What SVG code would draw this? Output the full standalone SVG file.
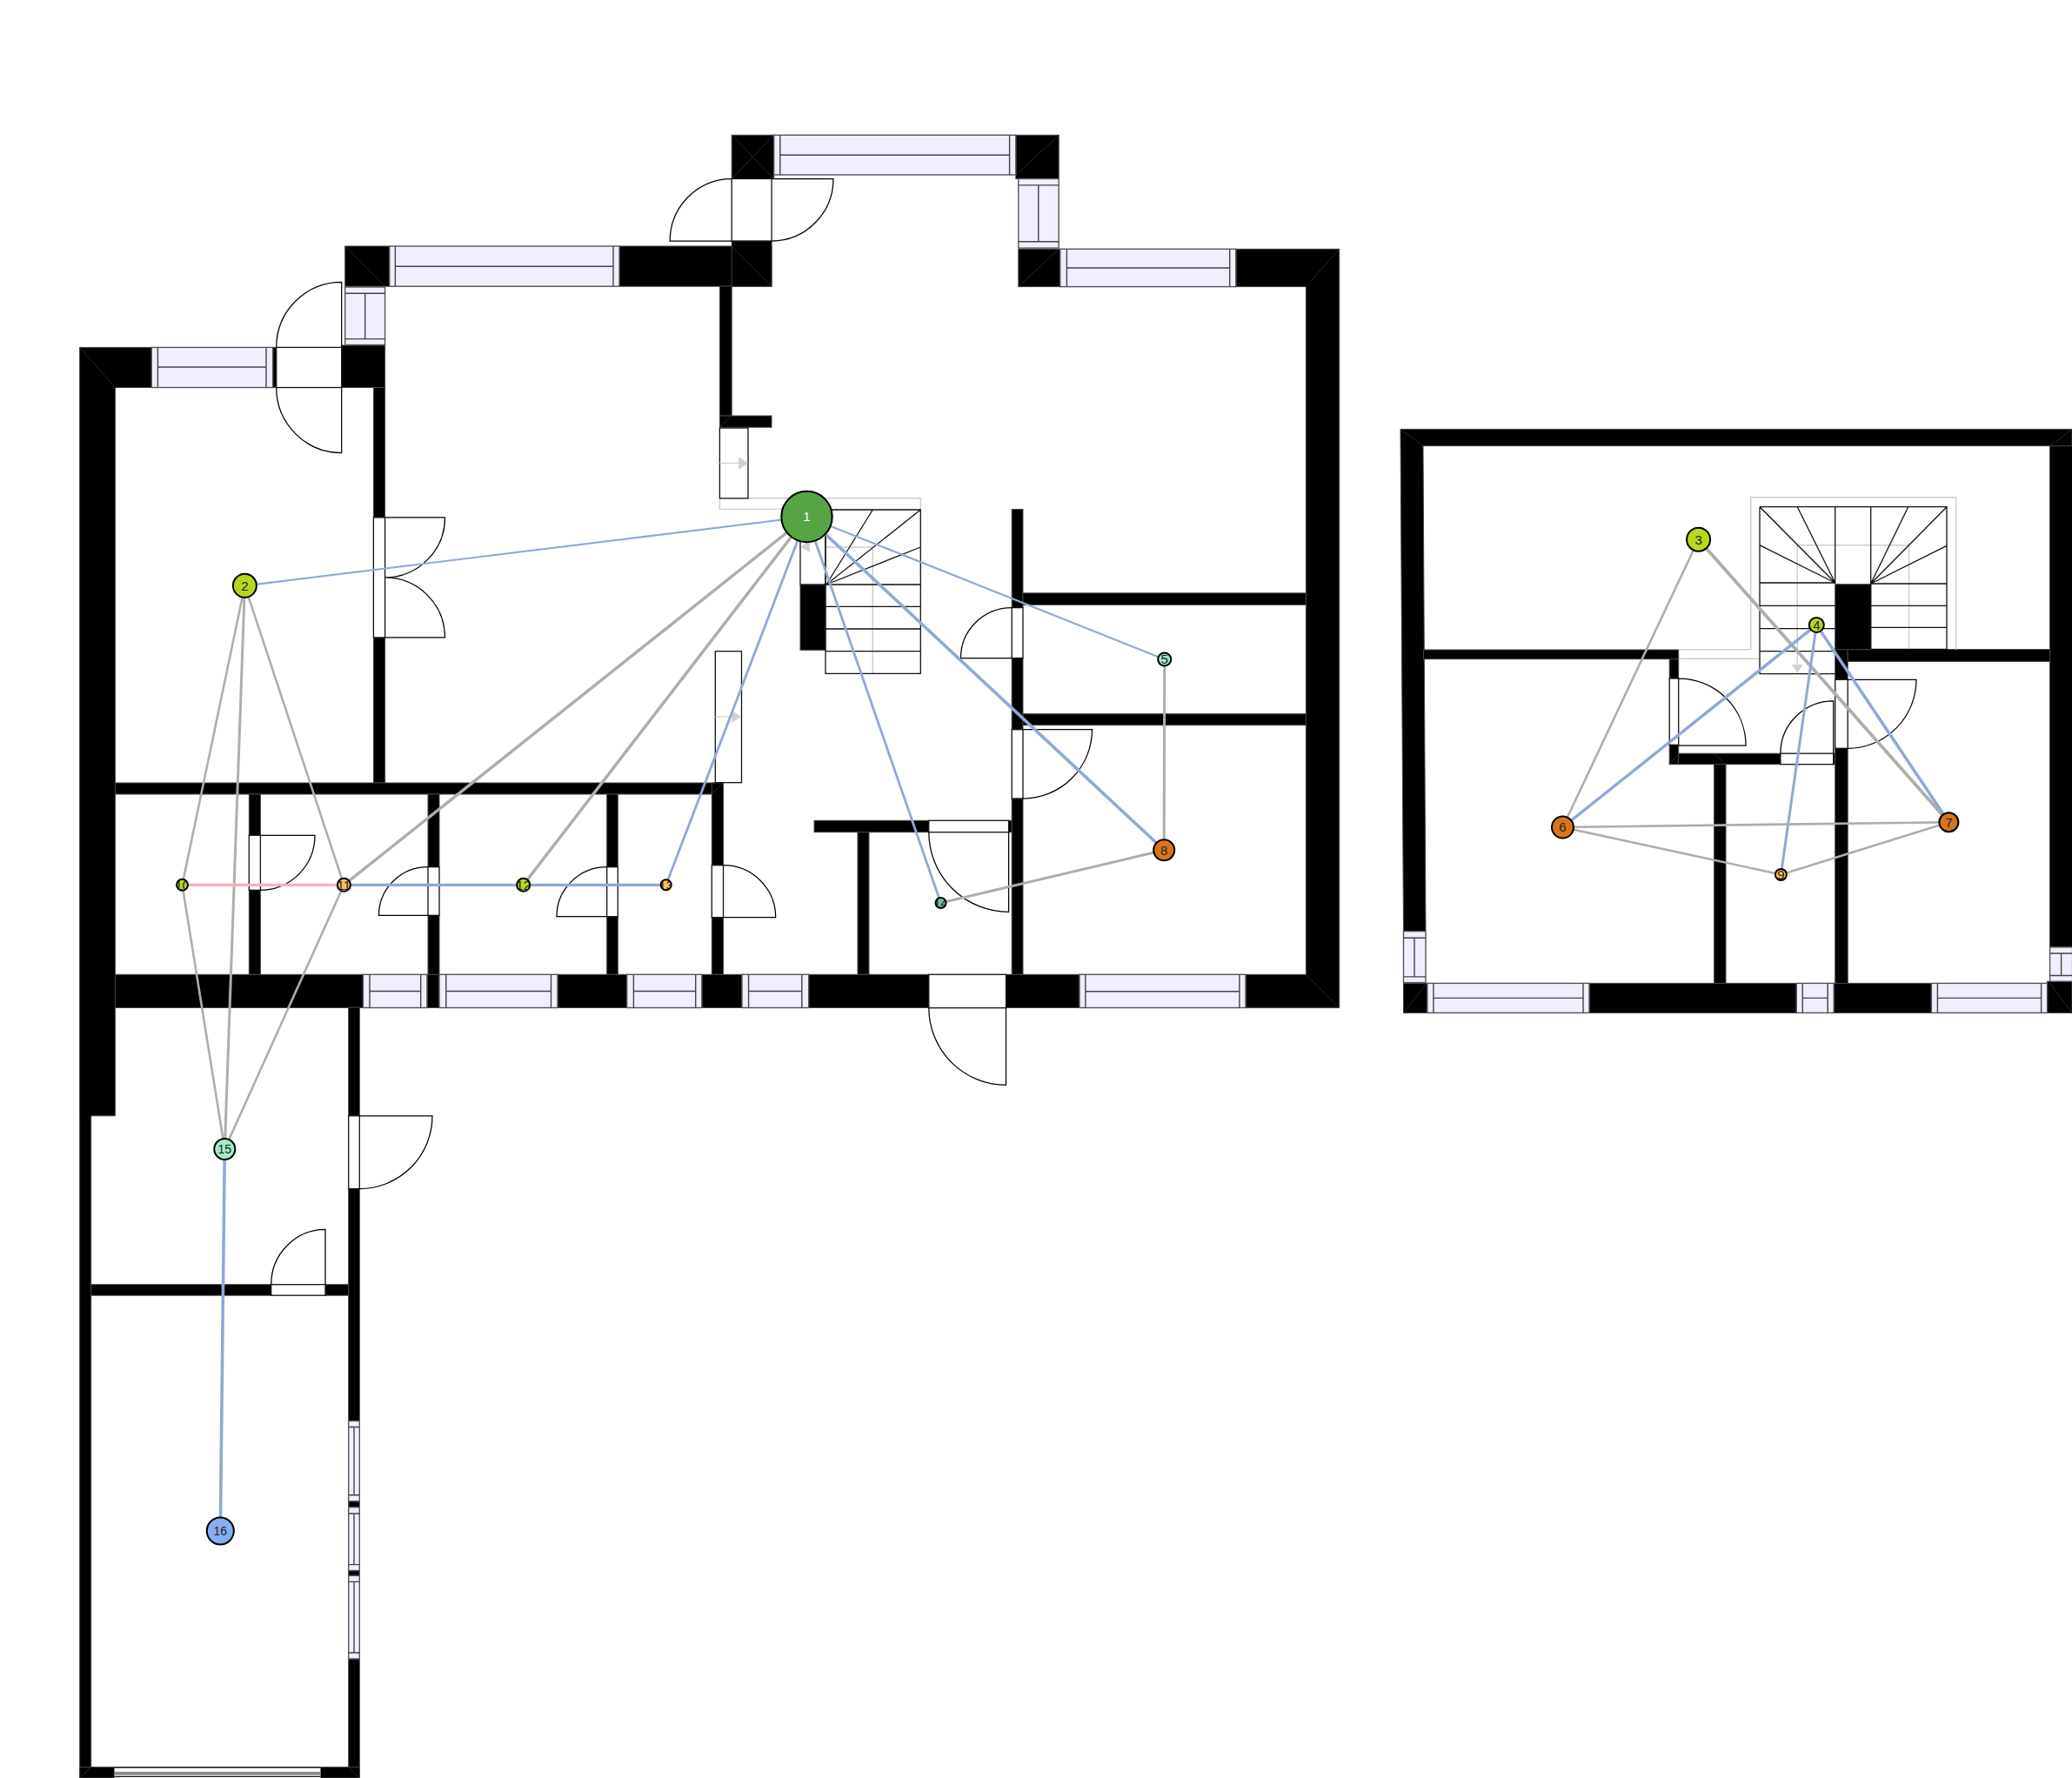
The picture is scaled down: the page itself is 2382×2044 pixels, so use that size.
<svg xmlns="http://www.w3.org/2000/svg" width="2382" height="2044" viewBox="0 0 2382 2044">
<style>
.wall{fill:#000;stroke:#444;stroke-width:1}
.diag{stroke:#2c2c2c;stroke-width:.9;fill:none}
.win{fill:#efeffd;stroke:#555;stroke-width:1.4}
.wl{stroke:#444;stroke-width:1.4;fill:none}
.op{fill:#fff;stroke:#111;stroke-width:1.3}
.leaf{fill:none;stroke:#000;stroke-width:1.25}
.st{fill:none;stroke:#111;stroke-width:1.3}
.lg{fill:none;stroke:#ccc;stroke-width:1.4}
.ar{fill:#d2d2d2;stroke:none}
.node circle{stroke:#000;stroke-width:2}
.node text{font-family:"Liberation Sans",Arial,sans-serif;font-size:15px;text-anchor:middle;fill:#222}
.b{stroke:#8fa9d5;fill:none}
.g{stroke:#aeafab;fill:none}
.p{stroke:#edb4bc;fill:none}
</style>
<defs>
<clipPath id="c10"><circle cx="209.5" cy="1017.3" r="6.5"/></clipPath>
<clipPath id="c11"><circle cx="395.4" cy="1017.3" r="7.5"/></clipPath>
<clipPath id="c12"><circle cx="601.7" cy="1017.3" r="7.5"/></clipPath>
<clipPath id="c13"><circle cx="765.7" cy="1017.3" r="6"/></clipPath>
<clipPath id="c14"><circle cx="1081.5" cy="1038" r="6"/></clipPath>
<clipPath id="c5"><circle cx="1338.7" cy="758" r="7.5"/></clipPath>
<clipPath id="c9"><circle cx="2047.4" cy="1005.4" r="6.5"/></clipPath>
</defs>
<rect width="2382" height="2044" fill="#fff"/>
<g id="ground-floor">
<path class="wall" d="M91.6 399.4H174.3V445.5H132.4V1282.8H104.7V2044H91.7V1282.8H91.6Z"/>
<rect class="wall" x="313.6" y="399.4" width="4.1" height="46.1"/>
<rect class="wall" x="392.7" y="397" width="49.9" height="48.5"/>
<rect class="wall" x="396.7" y="283" width="51.1" height="46.2"/>
<rect class="wall" x="712" y="283" width="175" height="46.2"/>
<rect class="wall" x="841.2" y="277" width="45.9" height="52.2"/>
<rect class="wall" x="841.2" y="155.3" width="48.5" height="50.2"/>
<rect class="wall" x="1167.8" y="155.3" width="49.4" height="50.2"/>
<rect class="wall" x="1170.8" y="286.3" width="48" height="43.3"/>
<path class="wall" d="M1420.8 286.3H1539.7V1158.6H1432V1120.3H1501.4V329.6H1420.8Z"/>
<rect class="wall" x="827.4" y="329" width="13.8" height="149"/>
<rect class="wall" x="827.4" y="478" width="59.6" height="13.2"/>
<rect class="wall" x="429.4" y="445.5" width="13.2" height="149.4"/>
<rect class="wall" x="429.4" y="732.9" width="13.2" height="167.1"/>
<rect class="wall" x="132.4" y="900" width="698" height="13"/>
<rect class="wall" x="286.3" y="913" width="13.1" height="47.3"/>
<rect class="wall" x="286.3" y="1023.3" width="13.1" height="97"/>
<rect class="wall" x="492" y="913" width="13" height="83.7"/>
<rect class="wall" x="492" y="1052.3" width="13" height="68"/>
<rect class="wall" x="697.7" y="913" width="12.6" height="83.7"/>
<rect class="wall" x="697.7" y="1053.7" width="12.6" height="66.6"/>
<rect class="wall" x="818.3" y="900" width="13.2" height="94.7"/>
<rect class="wall" x="818.3" y="1054.7" width="13.2" height="65.6"/>
<rect class="wall" x="1163.2" y="585.5" width="12.8" height="113.1"/>
<rect class="wall" x="1163.2" y="756.5" width="12.8" height="82.2"/>
<rect class="wall" x="1163.2" y="918" width="12.8" height="202.3"/>
<rect class="wall" x="1176" y="681.8" width="325.4" height="13.5"/>
<rect class="wall" x="1176" y="820.7" width="325.4" height="13"/>
<rect class="wall" x="936" y="943.3" width="131.8" height="13.4"/>
<rect class="wall" x="1159.6" y="943.3" width="3.6" height="13.4"/>
<rect class="wall" x="986" y="956.7" width="13" height="163.6"/>
<rect class="wall" x="132.4" y="1120.3" width="285" height="38.2"/>
<rect class="wall" x="490.9" y="1120.3" width="14.1" height="38.2"/>
<rect class="wall" x="641" y="1120.3" width="79.7" height="38.2"/>
<rect class="wall" x="806.8" y="1120.3" width="46.1" height="38.2"/>
<rect class="wall" x="929.7" y="1120.3" width="138.1" height="38.2"/>
<rect class="wall" x="1156.5" y="1120.3" width="84.5" height="38.2"/>
<rect class="wall" x="400.7" y="1158" width="12.6" height="124.8"/>
<rect class="wall" x="400.7" y="1366.6" width="12.6" height="266.9"/>
<rect class="wall" x="400.7" y="1725.8" width="12.6" height="6.9"/>
<rect class="wall" x="400.7" y="1805.6" width="12.6" height="5.8"/>
<rect class="wall" x="400.7" y="1907" width="12.6" height="137"/>
<rect class="wall" x="104.7" y="1476.7" width="207" height="12.5"/>
<rect class="wall" x="374" y="1476.7" width="26.7" height="12.5"/>
<rect class="wall" x="91.7" y="2031.4" width="40" height="12.6"/>
<rect class="wall" x="368.3" y="2031.4" width="45" height="12.6"/>
<path class="diag" d="M91.6 399.4L132.4 445.5M396.7 283L442.6 329.2M841.2 283L887 329.2M841.2 155.3L889.7 205.5M889.7 155.3L841.2 205.5M1217.2 155.3L1167.8 201M1170.8 329.6L1217.2 286.3M1539.7 286.3L1501.4 329.6M1501.4 1120.3L1539.7 1158.6M827.4 491.2L841.2 478M818.3 913L831.5 900M91.7 2044L104.7 2031.4M413.3 2044L400.7 2031.4"/>
</g>
<g id="ground-windows">
<rect class="win" x="174.3" y="399.4" width="139.3" height="46.1"/><path class="wl" d="M181.4 399.4V445.5M306 399.4V445.5M181.4 422H306"/>
<rect class="win" x="396.7" y="330" width="45.9" height="66.5"/><path class="wl" d="M396.7 337.3H442.6M396.7 389.6H442.6M419.7 337.3V389.6"/>
<rect class="win" x="447.8" y="283" width="264.2" height="46.2"/><path class="wl" d="M454.4 283V329.2M705 283V329.2M454.4 306.3H705"/>
<rect class="win" x="889.7" y="155.3" width="278.1" height="45.7"/><path class="wl" d="M896.8 155.3V201M1160.6 155.3V201M896.8 178.2H1160.6"/>
<rect class="win" x="1170.8" y="205.5" width="46.4" height="79.6"/><path class="wl" d="M1170.8 212.9H1217.2M1170.8 277.8H1217.2M1193.8 212.9V277.8"/>
<rect class="win" x="1218.8" y="286.3" width="202" height="43.3"/><path class="wl" d="M1226.4 286.3V329.6M1413.7 286.3V329.6M1226.4 308H1413.7"/>
<rect class="win" x="417.4" y="1120.3" width="73.5" height="38.2"/><path class="wl" d="M425 1120.3V1158.5M483.7 1120.3V1158.5M425 1139.5H483.7"/>
<rect class="win" x="505" y="1120.3" width="136" height="38.2"/><path class="wl" d="M512.8 1120.3V1158.5M633.5 1120.3V1158.5M512.8 1139.5H633.5"/>
<rect class="win" x="720.7" y="1120.3" width="86.1" height="38.2"/><path class="wl" d="M728.4 1120.3V1158.5M799.7 1120.3V1158.5M728.4 1139.5H799.7"/>
<rect class="win" x="853" y="1120.3" width="76.7" height="38.2"/><path class="wl" d="M860.6 1120.3V1158.5M921.8 1120.3V1158.5M860.6 1139.5H921.8"/>
<rect class="win" x="1241" y="1120.3" width="191" height="38.2"/><path class="wl" d="M1247.9 1120.3V1158.5M1424.9 1120.3V1158.5M1247.9 1139.7H1424.9"/>
<rect class="win" x="400.7" y="1633.5" width="12.6" height="92.3"/><path class="wl" d="M400.7 1640.5H413.3M400.7 1718.8H413.3M407 1640.5V1718.8"/>
<rect class="win" x="400.7" y="1732.7" width="12.6" height="72.9"/><path class="wl" d="M400.7 1740H413.3M400.7 1798.6H413.3M407 1740V1798.6"/>
<rect class="win" x="400.7" y="1811.4" width="12.6" height="95.6"/><path class="wl" d="M400.7 1818.4H413.3M400.7 1900H413.3M407 1818.4V1900"/>
<rect x="131.7" y="2031.7" width="236.6" height="12.3" fill="#fff"/><rect x="131.7" y="2036.8" width="236.6" height="3.8" fill="#888"/><path d="M131.7 2031.7H368.3M131.7 2042.4H368.3" stroke="#111" stroke-width="1.4" fill="none"/>
</g>
<g id="ground-doors">
<rect class="op" x="317.7" y="399.4" width="75" height="46.1"/>
<path class="leaf" d="M392.7 399.4V324.3A75 75 0 0 0 317.7 399.4M392.7 445.5V520.6A75 75 0 0 1 317.7 445.5"/>
<rect class="op" x="841.2" y="205.5" width="45.9" height="71.5"/>
<path class="leaf" d="M841.2 277H770.2A71 71.5 0 0 1 841.2 205.5M887.1 205.5H958A71 71.5 0 0 1 887.1 277"/>
<rect class="op" x="429.4" y="594.9" width="13.2" height="138"/>
<path class="leaf" d="M442.6 594.9H511.5A69 69 0 0 1 442.6 663.9M442.6 732.9H511.5A69 69 0 0 0 442.6 663.9"/>
<rect class="op" x="1163.2" y="698.6" width="12.8" height="57.9"/>
<path class="leaf" d="M1163.2 756.5H1104.5A58.7 57.9 0 0 1 1163.2 698.6"/>
<rect class="op" x="1163.2" y="838.7" width="12.8" height="79.3"/>
<path class="leaf" d="M1176 838.7H1255.5A79.5 79.3 0 0 1 1176 918"/>
<rect class="op" x="1067.8" y="1120.3" width="88.7" height="38.4"/>
<path class="leaf" d="M1156.5 1158.7V1247.3A88.7 88.6 0 0 1 1067.8 1158.7"/>
<rect class="op" x="1067.8" y="943.3" width="91.8" height="13.4"/>
<path class="leaf" d="M1159.6 956.7V1048.3A91.8 91.6 0 0 1 1067.8 956.7"/>
<rect class="op" x="818.3" y="994.7" width="13.2" height="60"/>
<path class="leaf" d="M831.5 1054.7H891.7A60.2 60 0 0 0 831.5 994.7"/>
<rect class="op" x="286.3" y="960.3" width="13.1" height="63"/>
<path class="leaf" d="M299.4 960.3H362A62.6 63 0 0 1 299.4 1023.3"/>
<rect class="op" x="492" y="996.7" width="13" height="55.6"/>
<path class="leaf" d="M492 1052.3H435.5A56.5 55.6 0 0 1 492 996.7"/>
<rect class="op" x="697.7" y="996.7" width="12.6" height="57"/>
<path class="leaf" d="M697.7 1053.7H640A57.7 57 0 0 1 697.7 996.7"/>
<rect class="op" x="400.7" y="1282.8" width="12.6" height="83.8"/>
<path class="leaf" d="M413.3 1282.8H497A83.7 83.8 0 0 1 413.3 1366.6"/>
<rect class="op" x="311.7" y="1476.7" width="62.3" height="12.5"/>
<path class="leaf" d="M374 1476.7V1413.4A62.3 63.3 0 0 0 311.7 1476.7"/>
</g>
<g id="ground-stairs">
<path class="lg" d="M827.4 572.8V585.4H949M860 572.8H1058.3V586M920 629H1003.3M1003.3 629V774.3"/>
<rect class="op" x="827.4" y="492" width="32.6" height="80.9"/>
<path d="M827.4 532.4H849" stroke="#d2d2d2" stroke-width="1.3"/><path class="ar" d="M849 525L860 532.4L849 540Z"/>
<rect class="op" x="822.3" y="748.7" width="30.2" height="151"/>
<path d="M822.3 824H841" stroke="#d2d2d2" stroke-width="1.3"/><path class="ar" d="M841 817L852 824L841 831Z"/>
<rect class="op" x="920" y="586" width="29" height="86"/>
<path class="ar" d="M931 620L920.5 629L931 635Z"/>
<rect class="wall" x="920" y="672" width="29" height="75.3"/>
<path class="st" d="M949 586H1058.3V774.3H949V586M949 672H1058.3M949 697.3H1058.3M949 723H1058.3M949 748.7H1058.3M950 672L1003.3 586M950 672L1058.3 586M950 672L1058.3 629"/>
</g>
<g id="upper-floor">
<path class="wall" d="M1610 493.4H2382V512.6H1636L1639 1070.6H1613.5Z"/>
<rect class="wall" x="2356.6" y="512.6" width="26" height="576.3"/>
<rect class="wall" x="1636.5" y="747" width="293.2" height="10.7"/>
<rect class="wall" x="1919.2" y="757.7" width="10.5" height="22.3"/>
<rect class="wall" x="1919.2" y="856.3" width="10.5" height="22.4"/>
<rect class="wall" x="1929.7" y="866.2" width="117.2" height="12.5"/>
<rect class="wall" x="1970.6" y="878.7" width="13.4" height="251.7"/>
<rect class="wall" x="2107.7" y="866.2" width="2" height="12.5"/>
<rect class="wall" x="2109.7" y="746.5" width="14.5" height="34.8"/>
<rect class="wall" x="2109.7" y="860.3" width="14.5" height="270.1"/>
<rect class="wall" x="2124.2" y="746.5" width="232.4" height="13.9"/>
<rect class="wall" x="1613.5" y="1130.4" width="27.4" height="34"/>
<rect class="wall" x="1827" y="1130.4" width="238.3" height="34"/>
<rect class="wall" x="2108.2" y="1130.4" width="112.2" height="34"/>
<rect class="wall" x="2353.6" y="1128.2" width="28.4" height="36.2"/>
<path class="diag" d="M1610 493.4L1636 512.6M2382 493.4L2356.6 512.6M1613.5 1164.4L1640 1130.4M2356.6 1130.4L2382 1164.4M1919.2 878.7L1929.7 866.2M1970.6 866.2L1984 878.7"/>
<rect class="win" x="1613.5" y="1070.6" width="25.5" height="59"/><path class="wl" d="M1613.5 1078.2H1639M1613.5 1122.9H1639M1626 1078.2V1122.9"/>
<rect class="win" x="2356.6" y="1088.9" width="26" height="39.3"/><path class="wl" d="M2356.6 1096H2382M2356.6 1121.5H2382M2369.6 1096V1121.5"/>
<rect class="win" x="1640.9" y="1130.4" width="186.1" height="34"/><path class="wl" d="M1647.9 1130.4V1164.4M1820 1130.4V1164.4M1647.9 1147.4H1820"/>
<rect class="win" x="2065.3" y="1130.4" width="42.9" height="34"/><path class="wl" d="M2072.3 1130.4V1164.4M2101.2 1130.4V1164.4M2072.3 1147.4H2101.2"/>
<rect class="win" x="2220.4" y="1130.4" width="133.2" height="34"/><path class="wl" d="M2227.4 1130.4V1164.4M2346.6 1130.4V1164.4M2227.4 1147.4H2346.6"/>
<rect class="op" x="1919.2" y="780" width="10.5" height="76.3"/>
<path class="leaf" d="M1929.7 857H2007A77.3 77 0 0 0 1929.7 780"/>
<rect class="op" x="2046.9" y="866.2" width="60.8" height="12.5"/>
<path class="leaf" d="M2107.7 866.2V805.9A60.8 60.3 0 0 0 2046.9 866.2"/>
<rect class="op" x="2109.7" y="781.3" width="14.5" height="79"/>
<path class="leaf" d="M2124.2 781.3H2203A78.8 79 0 0 1 2124.2 860.3"/>
<path class="lg" d="M1929.7 746.7H2012.7V571.7H2248.7V747M1929.7 757.3H2023M2066.3 626.7V774.7M2066.3 626.7H2194.7V746"/>
<path class="ar" d="M2060 764H2072.6L2066.3 774Z"/>
<rect class="wall" x="2109.7" y="671.7" width="41" height="75"/>
<path class="st" d="M2023 582.7H2238V746.3H2150.7V582.7M2109.7 582.7V671M2023 582.7V774.7H2109.7M2023 670H2109.7M2023 696.3H2109.7M2023 722.7H2109.7M2023 748.7H2109.7M2150.7 671H2238M2150.7 696.3H2238M2150.7 721.3H2238M2109.7 670L2023 582.7M2109.7 670L2066.3 582.7M2109.7 670L2023 626.7M2150.7 671L2238 582.7M2150.7 671L2193.7 582.7M2150.7 671L2238 627.3"/>
</g>
<g id="connectors">
<path class="b" stroke-width="2.2" d="M927.5 594L281.4 673.3"/>
<path class="g" stroke-width="3.5" d="M927.5 594L395.4 1017.3"/>
<path class="g" stroke-width="3.5" d="M927.5 594L601.7 1017.3"/>
<path class="b" stroke-width="2.8" d="M927.5 594L765.7 1017.3"/>
<path class="b" stroke-width="2.8" d="M927.5 594L1081.5 1038"/>
<path class="b" stroke-width="3.6" d="M927.5 594L1338.2 977.3"/>
<path class="b" stroke-width="2.2" d="M927.5 594L1338.7 758"/>
<path class="g" stroke-width="2.6" d="M281.4 673.3L209.5 1017.3"/>
<path class="g" stroke-width="3" d="M281.4 673.3L258.3 1321"/>
<path class="g" stroke-width="2.6" d="M281.4 673.3L395.4 1017.3"/>
<path class="p" stroke-width="3.3" d="M209.5 1017.3L395.4 1017.3"/>
<path class="b" stroke-width="3.3" d="M395.4 1017.3L601.7 1017.3"/>
<path class="b" stroke-width="3.3" d="M601.7 1017.3L765.7 1017.3"/>
<path class="g" stroke-width="2.6" d="M209.5 1017.3L258.3 1321"/>
<path class="g" stroke-width="2.6" d="M395.4 1017.3L258.3 1321"/>
<path class="g" stroke-width="3" d="M1338.7 758L1338.2 977.3"/>
<path class="g" stroke-width="3" d="M1081.5 1038L1338.2 977.3"/>
<path class="b" stroke-width="3.6" d="M258.3 1321L253.3 1760"/>
<path class="g" stroke-width="2.6" d="M1952.6 620.2L1796.5 951"/>
<path class="g" stroke-width="3.8" d="M1952.6 620.2L2240.4 945.2"/>
<path class="b" stroke-width="3.5" d="M2088.3 718.4L1796.5 951"/>
<path class="b" stroke-width="3" d="M2088.3 718.4L2047.4 1005.4"/>
<path class="b" stroke-width="3.5" d="M2088.3 718.4L2240.4 945.2"/>
<path class="g" stroke-width="2.6" d="M1796.5 951L2240.4 945.2"/>
<path class="g" stroke-width="2.6" d="M1796.5 951L2047.4 1005.4"/>
<path class="g" stroke-width="2.6" d="M2047.4 1005.4L2240.4 945.2"/>
</g>
<g id="n1" class="node"><circle cx="927.5" cy="594" r="29.2" fill="#55a545"/><text x="927.5" y="599.3" style="fill:#fff">1</text></g>
<g id="n2" class="node"><circle cx="281.4" cy="673.3" r="13.5" fill="#b5d81f"/><text x="281.4" y="678.6">2</text></g>
<g id="n3" class="node"><circle cx="1952.6" cy="620.2" r="13.5" fill="#b5d81f"/><text x="1952.6" y="625.5">3</text></g>
<g id="n4" class="node"><circle cx="2088.3" cy="718.4" r="8.5" fill="#b5d81f"/><text x="2088.3" y="723.7">4</text></g>
<g id="n5" class="node"><circle cx="1338.7" cy="758" r="7.5" fill="#a5e8c8"/><text x="1338.7" y="763.3" clip-path="url(#c5)">5</text></g>
<g id="n6" class="node"><circle cx="1796.5" cy="951" r="12.5" fill="#d6751c"/><text x="1796.5" y="956.3">6</text></g>
<g id="n7" class="node"><circle cx="2240.4" cy="945.2" r="11" fill="#d6751c"/><text x="2240.4" y="950.5">7</text></g>
<g id="n8" class="node"><circle cx="1338.2" cy="977.3" r="12" fill="#d6751c"/><text x="1338.2" y="982.6">8</text></g>
<g id="n9" class="node"><circle cx="2047.4" cy="1005.4" r="6.5" fill="#ffbe64"/><text x="2047.4" y="1010.7" clip-path="url(#c9)">9</text></g>
<g id="n10" class="node"><circle cx="209.5" cy="1017.3" r="6.5" fill="#b5d81f"/><text x="209.5" y="1022.6" clip-path="url(#c10)">10</text></g>
<g id="n11" class="node"><circle cx="395.4" cy="1017.3" r="7.5" fill="#ffbe64"/><text x="395.4" y="1022.6" clip-path="url(#c11)">11</text></g>
<g id="n12" class="node"><circle cx="601.7" cy="1017.3" r="7.5" fill="#b5d81f"/><text x="601.7" y="1022.6" clip-path="url(#c12)">12</text></g>
<g id="n13" class="node"><circle cx="765.7" cy="1017.3" r="6" fill="#ffbe64"/><text x="765.7" y="1022.6" clip-path="url(#c13)">13</text></g>
<g id="n14" class="node"><circle cx="1081.5" cy="1038" r="6" fill="#6cc5a8"/><text x="1081.5" y="1043.3" clip-path="url(#c14)">14</text></g>
<g id="n15" class="node"><circle cx="258.3" cy="1321" r="12" fill="#a5e8c8"/><text x="258.3" y="1326" style="font-size:14px">15</text></g>
<g id="n16" class="node"><circle cx="253.3" cy="1760" r="15.5" fill="#88aef2"/><text x="253.3" y="1765" style="font-size:14px">16</text></g>
</svg>
